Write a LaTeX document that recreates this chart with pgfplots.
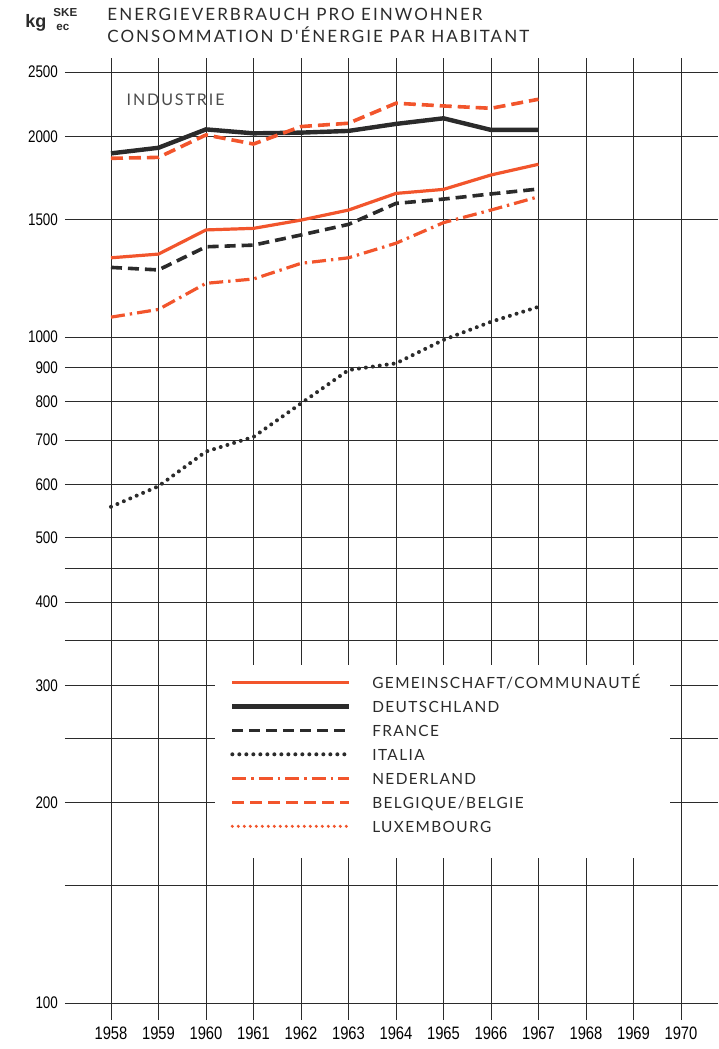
\documentclass[border=0pt]{standalone}
\usepackage{fontspec}
\usepackage{graphicx}
\usepackage{pgfplots}
\pgfplotsset{compat=1.18}
\setmainfont{Liberation Sans}
\newfontfamily\gill[LetterSpace=12]{Lato}
\newfontfamily\gilll[LetterSpace=9]{Lato}
\definecolor{orng}{HTML}{F2552C}
\definecolor{ink}{HTML}{2B2B2B}
\newcommand{\tl}[1]{\scalebox{0.8}[1]{\fontsize{8.4}{10}\selectfont #1}}
\newcommand{\yr}[1]{\scalebox{0.82}[1]{\fontsize{9}{10}\selectfont #1}}

\begin{document}
\begin{tikzpicture}
\path[use as bounding box] (-32.5pt,-14.5pt) rectangle (326.5pt,510pt);
\begin{axis}[
  scale only axis, width=326.5pt, height=481pt,
  ymode=log, xmin=1957.032, xmax=1970.779, ymin=94.3, ymax=2624,
  axis line style={draw=none}, tick style={draw=none},
  xtick={1958,1959,1960,1961,1962,1963,1964,1965,1966,1967,1968,1969,1970},
  xticklabels={\yr{1958},\yr{1959},\yr{1960},\yr{1961},\yr{1962},\yr{1963},\yr{1964},\yr{1965},\yr{1966},\yr{1967},\yr{1968},\yr{1969},\yr{1970}},
  ytick={100,200,300,400,500,600,700,800,900,1000,1500,2000,2500},
  yticklabels={\tl{100},\tl{200},\tl{300},\tl{400},\tl{500},\tl{600},\tl{700},\tl{800},\tl{900},\tl{1000},\tl{1500},\tl{2000},\tl{2500}},
  extra y ticks={150,250,350,450}, extra y tick labels={},
  extra y tick style={grid=major},
  grid=major, grid style={ink, line width=0.45pt},
  legend style={at={(axis cs:1960.5,312)}, anchor=north west, draw=none, fill=none,
    inner sep=0pt, row sep=4pt, cells={anchor=west},
    nodes={inner sep=1pt, text height=6pt, text depth=0pt},
    font=\gilll\fontsize{7.7}{9}\selectfont, text=ink},
  legend image code/.code={\draw[#1] (0pt,0pt) -- (58.5pt,0pt); \path[draw=none,fill=none] (0pt,-3pt) rectangle (69pt,3pt);},
]
\addplot[orng, line width=1.6pt] coordinates {
  (1958,1315) (1959,1332) (1960,1448) (1961,1456) (1962,1498)
  (1963,1551) (1964,1643) (1965,1666) (1966,1751) (1967,1817)};
\addlegendentry{GEMEINSCHAFT/COMMUNAUTÉ}
\addplot[ink, line width=2.2pt] coordinates {
  (1958,1887) (1959,1924) (1960,2050) (1961,2022) (1962,2027)
  (1963,2039) (1964,2089) (1965,2130) (1966,2046) (1967,2046)};
\addlegendentry{DEUTSCHLAND}
\addplot[ink, line width=1.8pt, dash pattern=on 5.5pt off 3pt] coordinates {
  (1958,1272) (1959,1261) (1960,1366) (1961,1374) (1962,1423)
  (1963,1476) (1964,1587) (1965,1611) (1966,1640) (1967,1668)};
\addlegendentry{FRANCE}
\addplot[ink, line width=2pt, line cap=round, dash pattern=on 0pt off 3.5pt] coordinates {
  (1958,556) (1959,597) (1960,673) (1961,708) (1962,795)
  (1963,892) (1964,913) (1965,990) (1966,1054) (1967,1110)};
\addlegendentry{ITALIA}
\addplot[orng, line width=1.6pt, dash pattern=on 7pt off 2.5pt on 1.2pt off 2.5pt] coordinates {
  (1958,1071) (1959,1100) (1960,1204) (1961,1222) (1962,1290)
  (1963,1315) (1964,1383) (1965,1485) (1966,1551) (1967,1624)};
\addlegendentry{NEDERLAND}
\addplot[orng, line width=1.8pt, dash pattern=on 6pt off 3pt] coordinates {
  (1958,1855) (1959,1861) (1960,2011) (1961,1949) (1962,2070)
  (1963,2094) (1964,2244) (1965,2223) (1966,2205) (1967,2275)};
\addlegendentry{BELGIQUE/BELGIE}
\addlegendimage{orng, line width=1.7pt, line cap=round, dash pattern=on 0pt off 3pt}
\addlegendentry{LUXEMBOURG}
\fill[white] (axis cs:1960.19,165) rectangle (axis cs:1969.77,322);
\node[font=\gill\fontsize{8}{9}\selectfont, text=ink!85, inner sep=0pt] at (axis cs:1959.36,2270) {INDUSTRIE};
\end{axis}
\node[anchor=base west, inner sep=0pt, font=\bfseries\fontsize{9}{10}\selectfont, text=ink] at (-20pt,496pt) {kg};
\node[anchor=base west, inner sep=0pt, font=\bfseries\fontsize{5.8}{7}\selectfont, text=ink] at (-6pt,501.5pt) {SKE};
\node[anchor=base west, inner sep=0pt, font=\bfseries\fontsize{5.8}{7}\selectfont, text=ink] at (-4.5pt,494.5pt) {ec};
\node[anchor=base west, inner sep=0pt, font=\gill\fontsize{8.5}{10}\selectfont, text=ink] at (21pt,499.5pt) {ENERGIEVERBRAUCH PRO EINWOHNER};
\node[anchor=base west, inner sep=0pt, font=\gill\fontsize{8.5}{10}\selectfont, text=ink] at (21pt,488.5pt) {CONSOMMATION D'ÉNERGIE PAR HABITANT};
\end{tikzpicture}
\end{document}
